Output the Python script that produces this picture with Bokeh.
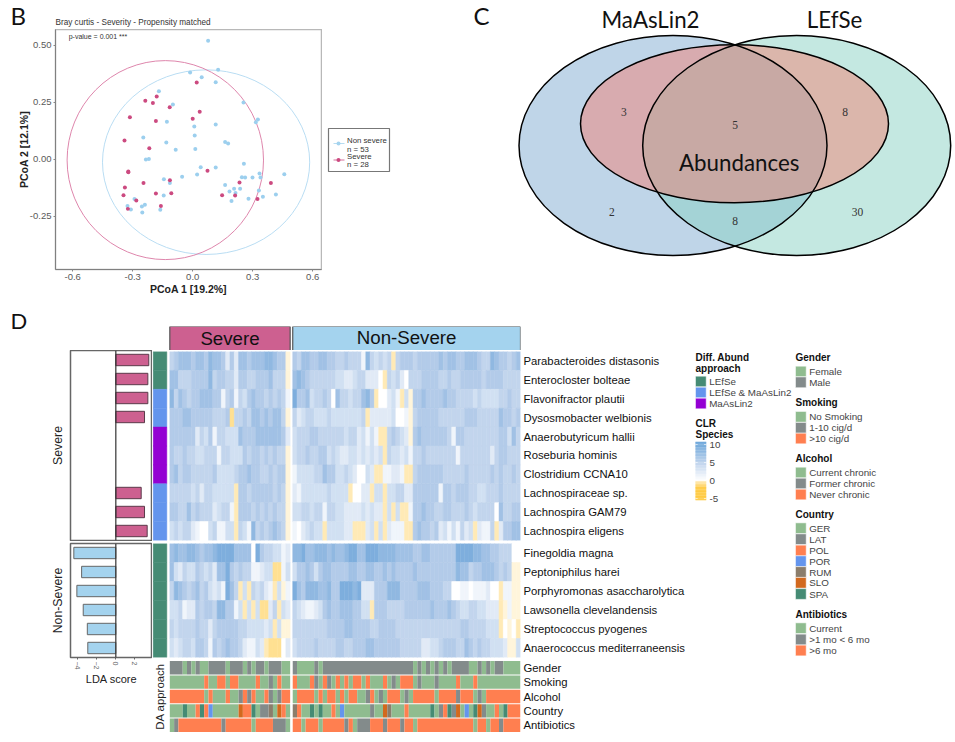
from math import pi
from bokeh.plotting import figure
from bokeh.layouts import column, row
from bokeh.embed import file_html
from bokeh.resources import INLINE
from bokeh.core.properties import value
from bokeh.models import (Range1d, FactorRange, FixedTicker, NumeralTickFormatter,
                          LinearColorMapper, ColumnDataSource, Span)

# ---------- Panel B data ----------
blue_x = [0.077,0.127,-0.013,0.045,0.115,-0.169,-0.099,0.254,-0.129,0.326,0.316,0.115,0.008,0.010,-0.247,-0.132,-0.085,0.013,0.162,0.177,-0.219,-0.234,0.256,0.040,0.115,-0.053,0.022,-0.144,-0.114,0.246,0.262,0.299,0.334,0.339,0.458,0.162,0.184,0.207,0.214,0.237,0.331,0.194,0.279,0.351,0.416,-0.145,-0.291,-0.239,-0.254,-0.326,-0.309,-0.252,-0.162]
blue_y = [0.520,0.392,0.380,0.360,0.338,0.298,0.240,0.249,0.164,0.174,0.162,0.152,0.143,0.104,0.095,0.073,0.041,0.045,0.075,0.069,0.001,-0.001,-0.020,-0.035,-0.037,-0.077,-0.067,-0.088,-0.104,-0.079,-0.080,-0.080,-0.063,-0.080,-0.066,-0.113,-0.142,-0.130,-0.148,-0.130,-0.137,-0.183,-0.174,-0.165,-0.155,-0.159,-0.175,-0.200,-0.208,-0.205,-0.221,-0.234,-0.222]
red_x = [0.020,-0.180,-0.237,-0.199,-0.115,0.035,-0.314,0.000,-0.184,-0.341,-0.217,0.074,-0.322,-0.322,-0.246,-0.114,0.234,0.391,-0.339,-0.346,-0.184,-0.107,0.147,0.212,0.324,-0.282,-0.324,-0.159]
red_y = [0.336,0.275,0.256,0.247,0.228,0.208,0.184,0.177,0.168,0.082,0.048,-0.051,-0.054,-0.057,-0.104,-0.092,-0.102,-0.105,-0.124,-0.158,-0.151,-0.149,-0.158,-0.159,-0.175,-0.181,-0.218,-0.205]
blue_ellipse = (0.067, -0.013, 1.036, 0.810)
red_ellipse = (-0.137, -0.004, 0.982, 0.873)

# ---------- Panel D data ----------
severe_species = ["Parabacteroides distasonis","Enterocloster bolteae","Flavonifractor plautii","Dysosmobacter welbionis","Anaerobutyricum hallii","Roseburia hominis","Clostridium CCNA10","Lachnospiraceae sp.","Lachnospira GAM79","Lachnospira eligens"]
nonsevere_species = ["Finegoldia magna","Peptoniphilus harei","Porphyromonas asaccharolytica","Lawsonella clevelandensis","Streptococcus pyogenes","Anaerococcus mediterraneensis"]
severe_lda = [3.47,3.37,3.37,3.02,None,None,None,2.67,3.02,3.30]
nonsevere_lda = [-4.42,-3.60,-4.10,-3.43,-3.00,-2.95]
severe_da = ["LEfSe","LEfSe","Both","Both","MaAsLin2","MaAsLin2","MaAsLin2","Both","Both","Both"]
nonsevere_da = ["LEfSe"]*6
annot_rows = ["Gender","Smoking","Alcohol","Country","Antibiotics"]

s01 = [4,5,6,6,6,5,6,6,5,7,6,6,5,2,5,2,6,6,5,6,6,6,7,7,6,5,5,-1]
s02 = [6,6,4,4,4,5,5,5,5,7,4,5,5,4,4,2,5,5,4,4,5,5,5,6,4,4,4,-1]
s03 = [7,4,6,5,4,5,5,6,6,6,5,5,1,4,5,1,4,3,5,6,5,5,4,5,4,5,4,1]
s04 = [5,5,5,6,6,5,5,5,5,5,4,4,4,5,-3,4,4,5,4,6,6,5,6,5,6,6,4,-1]
s05 = [5,5,5,5,5,5,2,4,3,5,1,4,4,3,3,3,6,5,5,5,6,6,6,6,6,6,5,2]
s06 = [5,4,4,5,4,4,3,3,4,4,4,1,4,4,3,3,3,5,4,5,5,4,5,4,5,4,4,-1]
s07 = [5,6,4,5,5,4,4,4,4,4,5,3,3,3,3,4,5,5,6,5,5,4,4,5,4,5,5,-1]
s08 = [4,4,4,4,4,3,4,2,4,4,3,3,3,3,3,-2,5,5,4,5,5,5,5,5,4,5,4,-1]
s09 = [5,5,4,4,6,4,5,4,4,4,2,3,4,4,1,-2,5,5,5,4,5,4,5,4,5,4,4,-1]
s10 = [3,4,3,4,4,2,1,0,0,3,4,1,1,3,3,-2,4,3,1,7,4,5,4,5,6,5,4,-1]
s11 = [6,7,6,6,7,7,6,5,6,6,7,8,8,8,8,6,6,6,6,0,8,5,4,4,3,3,1,2]
s12 = [6,3,2,4,3,3,5,4,3,4,2,6,6,8,5,4,5,4,4,1,1,2,3,3,-3,-3,1,3]
s13 = [4,7,6,5,4,5,6,4,5,3,2,3,1,8,6,4,-2,3,-2,4,3,4,2,1,-2,3,-1,1]
s14 = [3,3,4,1,2,2,5,4,5,5,4,7,7,5,5,1,3,-2,3,-2,3,-3,-3,2,4,-2,3,2]
s15 = [4,3,4,4,4,4,5,4,4,2,4,5,5,5,5,5,4,4,3,3,3,3,2,3,-2,3,-1,-1]
s16 = [3,2,3,4,4,3,5,5,4,1,5,4,5,6,5,5,4,2,1,1,3,2,-2,-3,-3,-3,0,2]

n01 = [5,4,6,6,5,5,6,6,5,5,4,4,5,4,4,4,1,7,4,3,4,3,4,-2,4,5,5,5,4,5,5,5,5,5,6,5,6,6,5,5,6,6,6,5,4,4,7,6,5,5,4,5,6]
n02 = [6,7,6,5,4,4,4,4,4,4,3,3,2,2,3,4,4,2,2,2,0,-2,4,3,4,2,0,4,4,4,5,5,5,5,4,4,5,4,4,5,5,5,5,5,4,5,5,5,5,4,4,4,4]
n03 = [8,5,5,6,3,4,4,5,4,0,6,4,4,3,4,4,6,7,5,-2,0,0,2,3,1,-2,3,-1,5,5,6,5,5,5,5,6,5,5,4,4,4,4,3,4,3,3,3,3,4,4,5,4,4]
n04 = [4,2,3,4,4,3,3,3,4,3,3,3,3,3,3,3,4,-2,2,2,2,2,2,3,0,0,1,-1,4,5,5,5,5,5,4,4,4,4,4,4,5,5,5,4,4,4,4,4,6,5,5,4,5]
n05 = [3,4,4,4,5,5,4,4,4,4,4,4,3,4,4,2,3,1,3,1,-2,-2,4,5,4,3,2,-1,5,6,5,5,5,5,5,5,4,1,5,5,4,4,4,4,4,4,4,4,5,5,3,6,4]
n06 = [3,4,4,5,4,4,5,5,3,4,3,2,2,3,3,2,3,2,3,2,3,-2,4,3,3,2,3,1,4,4,5,4,4,4,4,4,4,4,1,4,4,4,4,4,4,4,2,4,5,5,4,4,4]
n07 = [1,3,3,3,3,4,4,6,5,5,3,3,4,3,2,0,0,3,2,-2,-2,1,1,2,2,1,-2,-2,4,5,5,5,5,5,5,4,4,4,4,4,5,4,4,4,4,4,5,4,5,4,4,5,4]
n08 = [2,1,3,3,3,3,3,3,4,3,3,3,3,-2,0,0,2,2,-2,3,3,-2,3,3,4,4,2,2,5,5,5,5,5,5,1,5,5,4,5,5,5,4,4,3,3,4,4,4,5,4,4,4,4]
n09 = [3,3,4,4,3,4,4,1,4,4,3,3,2,2,2,2,3,2,3,2,2,-2,3,-2,3,-2,-2,1,5,5,6,5,5,4,4,5,5,4,4,4,5,4,3,4,4,4,4,0,6,4,4,5,5]
n10 = [1,0,2,3,4,3,3,-2,3,3,3,3,2,2,-2,-2,-2,2,3,-2,3,-2,2,1,1,1,-2,-2,5,6,5,5,4,5,2,3,1,3,1,4,2,3,-2,2,1,1,4,-2,2,5,5,6,6]
n11 = [7,7,8,6,6,7,7,7,6,7,6,6,7,8,8,6,6,8,8,8,7,7,7,7,6,6,6,6,5,5,6,6,5,5,5,5,5,5,8,8,8,8,7,7,6,6,5,5,4,4,4,0,0]
n12 = [3,5,5,6,5,3,5,6,6,5,5,5,5,6,6,5,5,6,6,5,5,6,5,6,5,5,5,5,6,5,5,5,5,5,5,5,5,5,7,6,6,4,5,5,6,6,6,5,4,5,4,-1,-1]
n13 = [8,6,5,7,7,7,6,6,7,5,5,8,8,8,7,8,2,2,2,5,5,5,7,7,7,5,5,5,5,6,6,6,5,5,5,4,4,0,0,1,1,0,1,1,1,2,0,0,-2,1,1,-1,-1]
n14 = [4,3,2,1,1,2,3,5,6,5,5,6,6,6,5,5,3,3,-2,5,5,5,4,4,4,4,5,5,5,5,5,5,6,5,5,5,6,5,4,3,3,4,4,3,3,2,2,2,-2,-1,1,-1,-1]
n15 = [4,4,4,4,4,4,4,4,5,5,5,5,6,6,5,5,5,5,4,4,5,5,5,5,4,4,4,4,4,4,4,4,4,4,4,4,4,4,4,5,5,4,4,4,4,3,3,3,-2,0,-1,0,-2]
n16 = [3,4,4,4,4,5,4,4,4,4,5,5,4,4,5,5,5,6,6,5,5,5,5,5,5,4,4,4,4,4,2,2,3,3,4,5,5,5,4,4,6,5,4,5,4,4,3,3,3,2,-1,-1,3]

# annotation rows, run-length coded: G green, A grey, O coral, B blue, R brown, S chocolate, P sea green
gender_sev = "A3 G1 A1 G1 A1 G2 A4 G1 A3 G1 A1 G1 A2 G1 A3 G2"
gender_non = "A1 G4 A1 G1 A21 G1 A1 G1 A1 G1 A1 G1 A1 G1 A4 G2 A1 G1 A1 G1 A2 G4"
smoking_sev = "G8 O1 G2 O2 G1 O2 G4 O1 G2 A1 G1 O1 G2"
smoking_non = "O1 G3 O1 A1 G1 O1 A1 G1 O1 G1 O1 G1 O2 G1 O1 G3 O1 G1 A1 G1 O3 G1 A1 G3 A1 G4 O1 G3 O1 G10"
alcohol_sev = "O8 G1 O1 G3 O1 G2 A1 O1 A1 O1 G2 O1 A1 G1 A1 O2"
alcohol_non = "G1 O4 G1 O1 G1 O2 G1 O1 G1 O2 G2 A1 O1 G1 A1 G1 O3 G1 A1 G1 O5 G1 O4 A1 O3 G1 A1 G1 O8"
country_sev = "G3 P1 G2 O1 P1 O1 B1 G6 S1 O2 P1 G1 A2 R1 G1 S1 O1 G1"
country_non = "R1 O1 G2 P1 G1 P1 G2 O1 G1 B1 G6 A1 G2 S1 R1 G3 O1 G5 P1 G1 A1 O1 P1 A1 S1 G1 B1 G1 P1 S1 A1 G2 O1 G1 P1 O3"
antibiotics_sev = "G1 A1 O10 A1 O6 G1 O4 A3 G1"
antibiotics_non = "O2 G1 O3 G1 O5 A1 O1 G1 A3 O3 A1 O3 A1 O2 G1 O13 G1 O2 G1 O2 A1 O4"

CODES = {"G":"#8FBC8F","A":"#838B8B","O":"#FF7F50","B":"#6495ED","R":"#8B7D6B","S":"#D2691E","P":"#458B74"}
DA_COL = {"LEfSe":"#458B74","Both":"#6495ED","MaAsLin2":"#9400D3"}
HOT = "#CD6090"; SKY = "#A4D3EE"
SANS = "Liberation Sans"; CAL = "Lato"; SERIF = "Liberation Serif"
TOP_H = 304
HEAD_B = 29

def runs(s):
    out = []
    for tok in s.split():
        out.append((tok[0], int(tok[1:])))
    return out

def fig(w, h, xr, yr, l=0, r=0, t=0, b=0, xloc=None, yloc=None):
    p = figure(width=w, height=h, x_range=xr, y_range=yr, toolbar_location=None,
               output_backend="svg", x_axis_location=xloc, y_axis_location=yloc,
               min_border_left=l, min_border_right=r, min_border_top=t, min_border_bottom=b,
               background_fill_color="white", border_fill_color="white", frame_align=False)
    p.grid.visible = False
    p.outline_line_color = None
    return p

def txt(p, x, y, s, size, color="#222222", font=SANS, align="left", style="normal", angle=0, base="middle"):
    p.text(x=[x], y=[y], text=[s], text_font=value(font), text_font_size=f"{size}px",
           text_color=color, text_align=align, text_baseline=base, text_font_style=style, angle=angle)

# ========== Panel B ==========
hb = fig(322, HEAD_B, Range1d(0, 322), Range1d(HEAD_B, 0))
txt(hb, 10, 15, "B", 24, "#111111", CAL)
txt(hb, 55, 22, "Bray curtis - Severity - Propensity matched", 8.2, "#333333")

pb = fig(322, TOP_H - HEAD_B, Range1d(-0.686, 0.644), Range1d(-0.484, 0.569), l=55, r=1, t=0, b=35, xloc="below", yloc="left")
pb.outline_line_color = "#B8B8B8"; pb.outline_line_width = 1.5
pb.xaxis.ticker = FixedTicker(ticks=[-0.6,-0.3,0,0.3,0.6])
pb.yaxis.ticker = FixedTicker(ticks=[-0.25,0,0.25,0.5])
pb.xaxis.formatter = NumeralTickFormatter(format="0.0")
pb.yaxis.formatter = NumeralTickFormatter(format="0.00")
pb.xaxis.axis_label = "PCoA 1 [19.2%]"; pb.yaxis.axis_label = "PCoA 2 [12.1%]"
for a in (pb.xaxis[0], pb.yaxis[0]):
    a.axis_label_text_font = SANS; a.axis_label_text_font_size = "10.5px"; a.axis_label_text_font_style = "bold"
    a.axis_label_text_color = "#222222"
    a.major_label_text_font = SANS; a.major_label_text_font_size = "9.5px"; a.major_label_text_color = "#5a5a5a"
    a.major_label_standoff = 2
    a.major_tick_in = 0; a.major_tick_out = 2; a.minor_tick_in = 0; a.minor_tick_out = 0
    a.major_tick_line_color = "#888888"; a.axis_line_color = "#808080"; a.axis_line_width = 1
pb.xaxis.axis_label_standoff = 0
pb.yaxis.axis_label_standoff = -3
pb.yaxis.major_label_orientation = "horizontal"
pb.ellipse(x=[blue_ellipse[0]], y=[blue_ellipse[1]], width=[blue_ellipse[2]], height=[blue_ellipse[3]],
           fill_color=None, line_color="#B9DDF3", line_width=1)
pb.ellipse(x=[red_ellipse[0]], y=[red_ellipse[1]], width=[red_ellipse[2]], height=[red_ellipse[3]],
           fill_color=None, line_color="#DE86AC", line_width=1)
pb.scatter(blue_x, blue_y, size=4, color="#9CCFEE", line_width=0)
pb.scatter(red_x, red_y, size=4, color="#CC4A80", line_width=0)
pb.text(x=[-0.62], y=[0.54], text=["p-value = 0.001 ***"], text_font=value(SANS), text_font_size="7px",
        text_color="#333333", text_baseline="middle")
panel_b = column(hb, pb, spacing=0)

# legend of panel B
lb = fig(78, TOP_H, Range1d(322, 400), Range1d(TOP_H, 0))
lb.quad(left=[328], right=[389], top=[128], bottom=[171], fill_color="white", line_color="#777777", line_width=1.2)
for yk, col, l1, ly1, l2, ly2 in [(143, SKY, "Non severe", 140, "n = 53", 148.5), (159.5, "#CC4A80", "Severe", 155.5, "n = 28", 164)]:
    lb.segment(x0=[333], y0=[yk], x1=[344], y1=[yk], line_color=col, line_width=0.8)
    lb.scatter([338], [yk], size=4, color=col, line_width=0)
    txt(lb, 346.5, ly1, l1, 7.8, "#333333")
    txt(lb, 346.5, ly2, l2, 7.8, "#333333")

# ========== Panel C ==========
venn_x = [672.5, 796.2, 734]
venn_y = [145, 145, 123.3]
venn_w = [308, 308, 308]
venn_h = [220, 220, 158]
venn_fill = ["#7FABD1", "#89D1C3", "#FF6C59"]
venn_alpha = [0.5, 0.5, 0.4]
pc = fig(555, TOP_H, Range1d(400, 955), Range1d(TOP_H, 0))
pc.ellipse(x=venn_x, y=venn_y, width=venn_w, height=venn_h, fill_color=venn_fill, fill_alpha=venn_alpha, line_color=None)
pc.ellipse(x=venn_x, y=venn_y, width=venn_w, height=venn_h, fill_color=None, line_color="black", line_width=1.5)
txt(pc, 473, 15, "C", 24, "#111111", CAL)
txt(pc, 650, 19, "MaAsLin2", 22.3, "#111111", CAL, "center")
txt(pc, 834, 19, "LEfSe", 22.3, "#111111", CAL, "center")
txt(pc, 738.7, 162, "Abundances", 22.3, "#111111", CAL, "center")
for x, y, s in [(623.3,111,"3"),(734.7,124,"5"),(844.7,111,"8"),(611.3,211,"2"),(734.7,220,"8"),(857,211,"30")]:
    txt(pc, x, y, s, 11.5, "#333333", SERIF, "center")

# ========== Panel D: left column ==========
dl = fig(152, 350 - TOP_H, Range1d(0, 152), Range1d(350, TOP_H))
txt(dl, 10, 320, "D", 22, "#111111", CAL)

LDA_RANGE = (-4.77, 3.86)
def bars(names, vals, label, fill, edge, h, t, b, show_axis):
    p = fig(152, h, Range1d(*LDA_RANGE), Range1d(len(names), 0),
            l=70, t=t, b=b, xloc="below" if show_axis else None, yloc="left")
    p.outline_line_color = "#666666"; p.outline_line_width = 1.5
    yy = [i + 0.5 for i, v in enumerate(vals) if v is not None]
    vv = [v for v in vals if v is not None]
    p.hbar(y=yy, left=0, right=vv, height=0.6, fill_color=fill, line_color=edge, line_width=1)
    p.add_layout(Span(location=0, dimension="height", line_color="#333333", line_width=1.2))
    ya = p.yaxis[0]
    ya.ticker = FixedTicker(ticks=[])
    ya.axis_label = label; ya.axis_label_text_font = SANS; ya.axis_label_text_font_size = "12.3px"
    ya.axis_label_text_font_style = "normal"; ya.axis_label_text_color = "#222222"
    ya.major_tick_in = 0; ya.major_tick_out = 0; ya.minor_tick_in = 0; ya.minor_tick_out = 0
    ya.axis_line_color = None; ya.major_label_standoff = 0; ya.axis_label_standoff = 6
    if show_axis:
        xa = p.xaxis[0]
        xa.ticker = FixedTicker(ticks=[-4,-2,0,2])
        xa.major_label_orientation = "vertical"
        xa.major_label_text_font = SANS; xa.major_label_text_font_size = "7px"; xa.major_label_text_color = "#666666"
        xa.major_tick_out = 2; xa.major_tick_in = 0; xa.minor_tick_out = 0; xa.minor_tick_in = 0
        xa.major_tick_line_color = "#666666"; xa.axis_line_color = None; xa.major_label_standoff = 2
        xa.axis_label = "LDA score"; xa.axis_label_text_font = SANS; xa.axis_label_text_font_size = "11px"
        xa.axis_label_text_font_style = "normal"; xa.axis_label_text_color = "#222222"; xa.axis_label_standoff = 1
    return p

bs = bars(severe_species, severe_lda, "Severe", HOT, "#5A3A4A", 191, 0, 1, False)
bn = bars(nonsevere_species, nonsevere_lda, "Non-Severe", SKY, "#666666", 201, 2, 85, True)
left_col = column(dl, bs, bn, spacing=0)

# ========== Panel D: heatmap column ==========
N_SEV, N_NON = 28, 53
CELL = 368 / 85.63
GAP = 0.6
X_START, X_END = -4.03, N_SEV + GAP + N_NON
sev_x = [i + 0.5 for i in range(N_SEV)]
non_x = [N_SEV + GAP + i + 0.5 for i in range(N_NON)]
all_x = sev_x + non_x
DA_CX = (159.5 - 169.3) / CELL
DA_W = 13.6 / CELL

def mix(c0, c1, t):
    return "#%02X%02X%02X" % tuple(round(a + (b - a) * t) for a, b in zip(c0, c1))
GOLD = (255, 193, 37)
STEPS = [-5 + i * 0.1 for i in range(151)]
def pal(v):
    if v < 0:
        return mix((255, 255, 255), GOLD, -v / 6)
    if v <= 5:
        return mix((255, 255, 255), (179, 203, 233), v / 5)
    return mix((179, 203, 233), (91, 155, 213), (v - 5) / 5)
def key_pal(v):
    if v < 0:
        return mix((255, 236, 190), GOLD, min(1, -v / 2))
    return pal(v)
mapper = LinearColorMapper(palette=[pal(v) for v in STEPS], low=-5, high=10)

# header
hd = fig(538, 350 - TOP_H, Range1d(X_START, X_END), Range1d(24, 0), t=22, r=170)
hd.quad(left=[0, N_SEV + GAP], right=[N_SEV, N_SEV + GAP + N_NON], top=[0, 0], bottom=[24, 24],
        fill_color=[HOT, SKY], line_color="#555555", line_width=1.2)
txt(hd, N_SEV / 2, 12, "Severe", 18.7, "#111111", SANS, "center")
txt(hd, N_SEV + GAP + N_NON / 2, 11, "Non-Severe", 18.7, "#111111", SANS, "center")

def style_labels(p, size):
    a = p.yaxis[0]
    a.major_label_text_font = SANS; a.major_label_text_font_size = f"{size}px"; a.major_label_text_color = "#111111"
    a.major_tick_in = 0; a.major_tick_out = 0; a.axis_line_color = None; a.major_label_standoff = 3

def heat(names, sev_rows, non_rows, da, h, t, b):
    p = fig(538, h, Range1d(X_START, X_END), FactorRange(factors=names[::-1], factor_padding=0, range_padding=0),
            t=t, b=b, r=170, yloc="right")
    xs, ys, vs = [], [], []
    for n, sr, nr in zip(names, sev_rows, non_rows):
        assert len(sr) == N_SEV and len(nr) == N_NON, n
        xs += all_x; ys += [n] * (N_SEV + N_NON); vs += list(sr) + list(nr)
    src = ColumnDataSource(dict(x=xs, y=ys, v=vs))
    p.rect(x="x", y="y", width=1, height=1, source=src,
           fill_color={"field": "v", "transform": mapper}, line_color={"field": "v", "transform": mapper}, line_width=0.5)
    p.rect(x=[DA_CX] * len(names), y=names, width=DA_W, height=1, fill_color=[DA_COL[d] for d in da],
           line_color=[DA_COL[d] for d in da], line_width=0.5)
    style_labels(p, 11.3)
    return p

h1 = heat(severe_species, [s01,s02,s03,s04,s05,s06,s07,s08,s09,s10], [n01,n02,n03,n04,n05,n06,n07,n08,n09,n10], severe_da, 191, 1, 1)
h2 = heat(nonsevere_species, [s11,s12,s13,s14,s15,s16], [n11,n12,n13,n14,n15,n16], nonsevere_da, 117, 2, 1)

an = fig(538, 84, Range1d(X_START, X_END), FactorRange(factors=annot_rows[::-1], factor_padding=0, range_padding=0),
         t=2, b=10, r=170, yloc="right")
annot_sev = [gender_sev, smoking_sev, alcohol_sev, country_sev, antibiotics_sev]
annot_non = [gender_non, smoking_non, alcohol_non, country_non, antibiotics_non]
for name, sr, nr in zip(annot_rows, annot_sev, annot_non):
    for spec, start, count in ((sr, 0.0, N_SEV), (nr, N_SEV + GAP, N_NON)):
        lefts, rights, cols = [], [], []
        used = 0
        for code, k in runs(spec):
            lefts.append(start + used); rights.append(start + used + k); cols.append(CODES[code]); used += k
        assert used == count, name
        an.hbar(y=[name] * len(lefts), left=lefts, right=rights, height=0.93, fill_color=cols, line_color=None)
style_labels(an, 11.3)
an.text(x=[DA_CX], y=["Alcohol"], text=["DA approach"], text_font=value(SANS), text_font_size="11.4px",
        text_color="#222222", text_align="center", text_baseline="middle", angle=pi / 2)
mid_col = column(hd, h1, h2, an, spacing=0)

# ========== Panel D: legends ==========
lg = fig(265, 742 - TOP_H, Range1d(690, 955), Range1d(742, TOP_H))
SW = 10.7
def legend_block(x, title_lines, title_ys, labels, colors, ys):
    for s, y in zip(title_lines, title_ys):
        txt(lg, x, y, s, 10, "#111111", SANS, style="bold")
    for s, c, y in zip(labels, colors, ys):
        lg.quad(left=[x], right=[x + SW], top=[y - SW / 2], bottom=[y + SW / 2], fill_color=c, line_color="white", line_width=0.5)
        txt(lg, x + 13.7, y, s, 9.8, "#444444")

gab = [CODES["G"], CODES["A"], CODES["O"]]
legend_block(695, ["Diff. Abund", "approach"], [356.7, 367.7], ["LEfSe", "LEfSe & MaAsLin2", "MaAsLin2"],
             [DA_COL["LEfSe"], DA_COL["Both"], DA_COL["MaAsLin2"]], [381, 392, 403])
legend_block(795, ["Gender"], [356.7], ["Female", "Male"], gab[:2], [371, 381.8])
legend_block(795, ["Smoking"], [402.3], ["No Smoking", "1-10 cig/d", ">10 cig/d"], gab, [416.3, 427.3, 438])
legend_block(795, ["Alcohol"], [458.3], ["Current chronic", "Former chronic", "Never chronic"], gab, [472, 483, 494])
legend_block(795, ["Country"], [514], ["GER", "LAT", "POL", "POR", "RUM", "SLO", "SPA"],
             [CODES[c] for c in "GAOBRSP"], [527.7, 538.7, 550, 560.7, 571.5, 582.3, 593.5])
legend_block(795, ["Antibiotics"], [614], ["Current", ">1 mo < 6 mo", ">6 mo"], gab, [627.7, 639, 650])

# colour key
txt(lg, 695, 423.3, "CLR", 10, "#111111", SANS, style="bold")
txt(lg, 695, 434, "Species", 10, "#111111", SANS, style="bold")
KEY_Y0, KEY_K = 480, 3.6
key_vals = [-5.4 + 0.1 * i for i in range(162)]
lg.quad(left=[695] * len(key_vals), right=[705.7] * len(key_vals),
        top=[KEY_Y0 - (v + 0.06) * KEY_K for v in key_vals], bottom=[KEY_Y0 - (v - 0.06) * KEY_K for v in key_vals],
        fill_color=[key_pal(max(min(v, 10), -5)) for v in key_vals],
        line_color=None)
for v, s in [(10, "10"), (5, "5"), (0, "0"), (-5, "-5")]:
    y = KEY_Y0 - v * KEY_K
    lg.segment(x0=[695, 703.5], y0=[y, y], x1=[697.2, 705.7], y1=[y, y], line_color="white", line_width=0.6)
    txt(lg, 709, y, s, 9.8, "#444444")

bottom = row(left_col, mid_col, lg, spacing=0)
top = row(panel_b, lb, pc, spacing=0)
page = column(top, bottom, spacing=0)
open("out.html", "w").write(file_html(page, INLINE))
